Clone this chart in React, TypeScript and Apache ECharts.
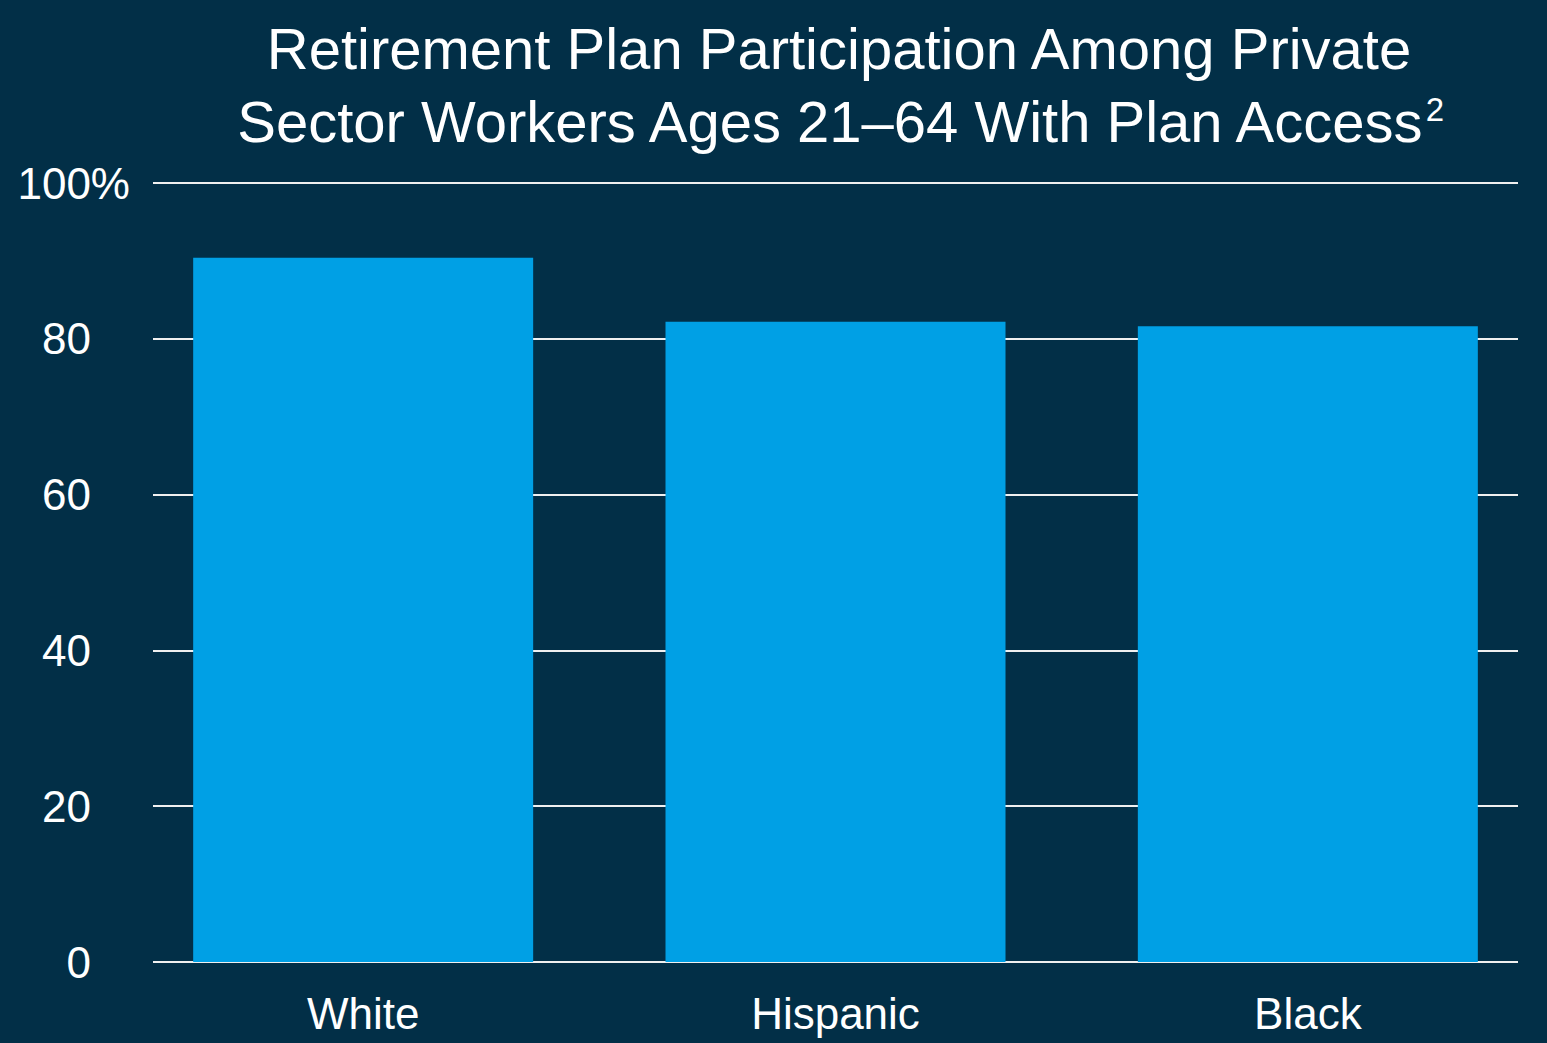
import React, { useEffect, useRef } from "react";
import * as echarts from "echarts";

const categories = ["White", "Hispanic", "Black"];
const participation = [90.4, 82.2, 81.6];
const yTicks = [0, 20, 40, 60, 80, 100];
const titleLine1 = "Retirement Plan Participation Among Private";
const titleLine2 = "Sector Workers Ages 21–64 With Plan Access";

const FONT = "'Liberation Sans', Arial, Helvetica, sans-serif";
const BG = "#022f47";
const BAR = "#00a0e5";

export default function App() {
  const ref = useRef<HTMLDivElement>(null);
  useEffect(() => {
    if (!ref.current) return;
    const chart = echarts.init(ref.current, undefined, { renderer: "svg" });
    chart.setOption({
      animation: false,
      backgroundColor: BG,
      title: {
        text: titleLine1 + "\n" + titleLine2 + "{sup|2}",
        left: 834,
        top: 7,
        textAlign: "center",
        textStyle: {
          color: "#ffffff",
          fontFamily: FONT,
          fontSize: 58,
          fontWeight: "normal",
          lineHeight: 73,
          rich: {
            sup: {
              color: "#ffffff",
              fontFamily: FONT,
              fontSize: 33,
              verticalAlign: "middle",
              lineHeight: 33,
              padding: [0, 0, 24, 0],
            },
          },
        },
      },
      grid: [
        { left: 153, right: 29, top: 183, bottom: 81 },
        { left: 127, right: 3, top: 183, bottom: 81 },
      ],
      xAxis: [
        { type: "category", gridIndex: 0, data: categories, show: false },
        {
          type: "category",
          gridIndex: 1,
          data: categories,
          axisLine: { show: false },
          axisTick: { show: false },
          axisLabel: {
            color: "#ffffff",
            fontFamily: FONT,
            fontSize: 44,
            margin: 29,
          },
        },
      ],
      yAxis: [
        {
          type: "value",
          gridIndex: 0,
          min: yTicks[0],
          max: yTicks[yTicks.length - 1],
          interval: 20,
          axisLine: { show: false },
          axisTick: { show: false },
          splitLine: { show: true, lineStyle: { color: "#f0f0f0", width: 2 } },
          axisLabel: {
            color: "#ffffff",
            fontFamily: FONT,
            fontSize: 44,
            margin: 23,
            align: "right",
            formatter: (v: number) => (v === 100 ? "100%" : v + "{h| }"),
            rich: {
              h: { fontFamily: FONT, fontSize: 44, width: 39 },
            },
          },
        },
        {
          type: "value",
          gridIndex: 1,
          min: yTicks[0],
          max: yTicks[yTicks.length - 1],
          interval: 20,
          show: false,
          splitLine: { show: false },
        },
      ],
      series: [
        {
          type: "bar",
          xAxisIndex: 1,
          yAxisIndex: 1,
          data: participation,
          barWidth: 340,
          itemStyle: { color: BAR },
        },
      ],
    });
    return () => chart.dispose();
  }, []);
  return (
    <div
      ref={ref}
      style={{ position: "fixed", left: 0, top: 0, width: 1547, height: 1043 }}
    />
  );
}
